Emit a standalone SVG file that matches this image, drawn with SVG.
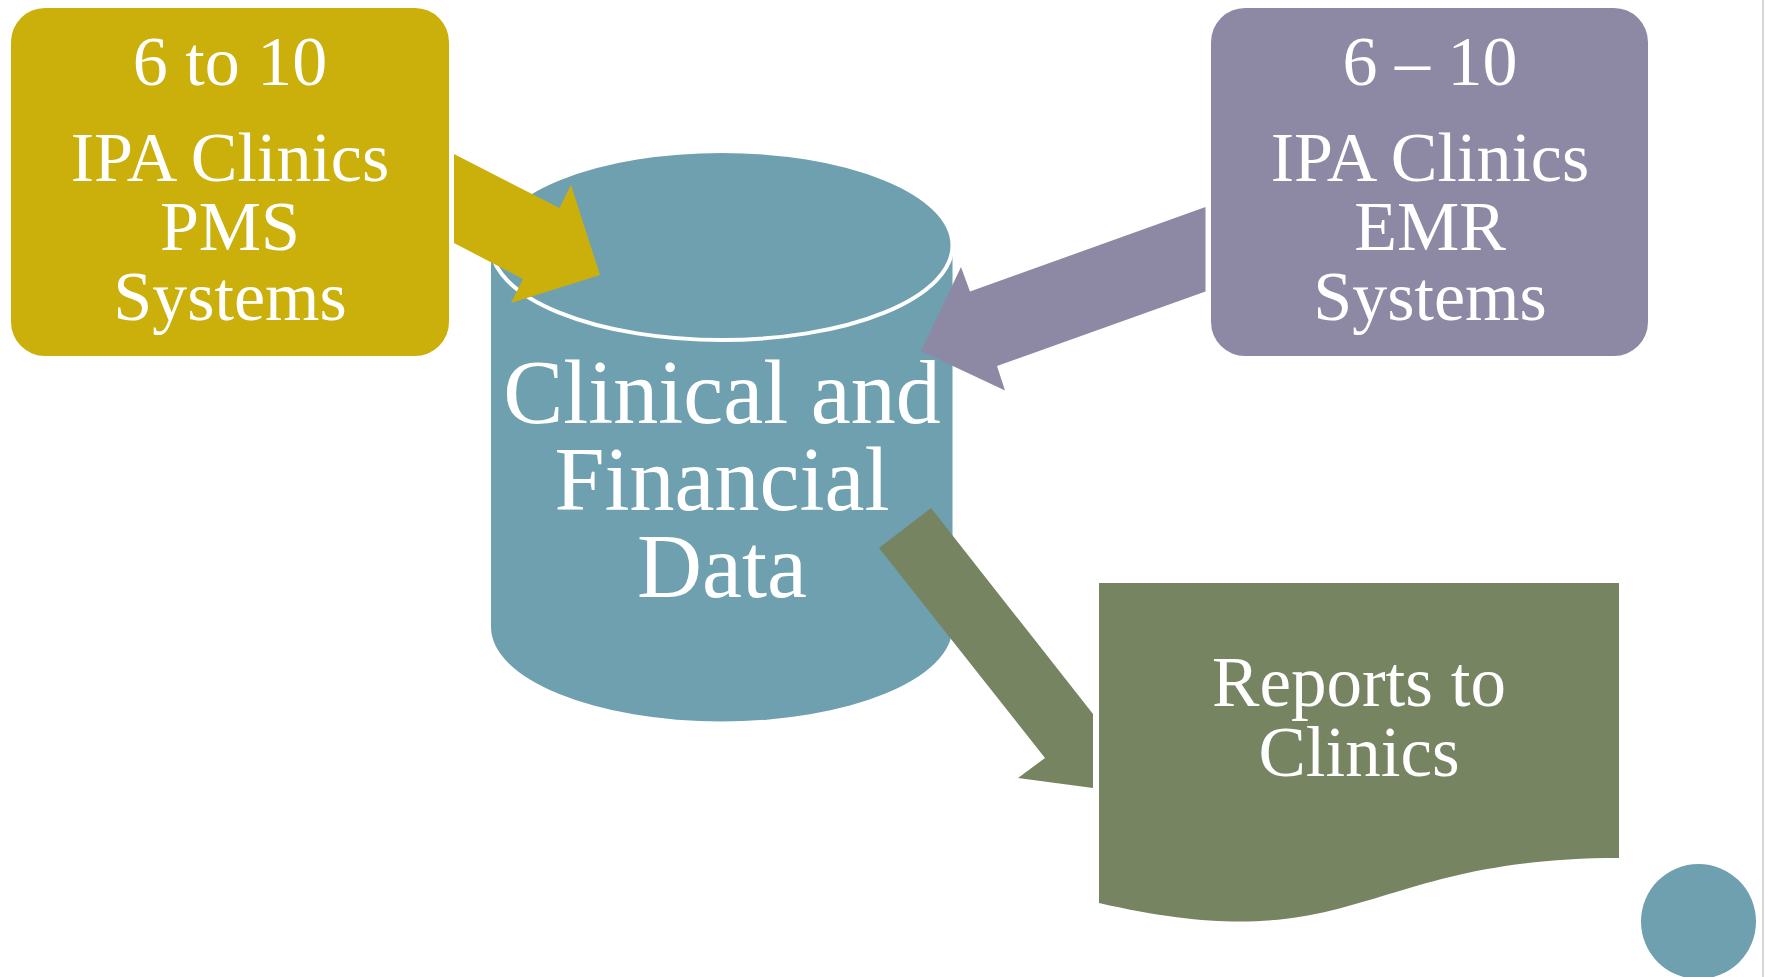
<svg xmlns="http://www.w3.org/2000/svg" width="1765" height="977" viewBox="0 0 1765 977">
<style>
text{font-family:"Liberation Serif","Times New Roman",serif;fill:#ffffff;text-anchor:middle}
.box{font-size:70px}
.big{font-size:90px}
.rep{font-size:71px}
</style>
<rect width="1765" height="977" fill="#ffffff"/>
<line x1="1763" y1="0" x2="1763" y2="977" stroke="#c8c8c8" stroke-width="1.5"/>
<g id="pms">
<rect x="11" y="8" width="438" height="348" rx="34" ry="34" fill="#CBB00C"/>
<text class="box" x="230" y="85">6 to 10</text>
<text class="box" x="230" y="181">IPA Clinics</text>
<text class="box" x="230" y="250">PMS</text>
<text class="box" x="230" y="320">Systems</text>
</g>
<g id="emr">
<rect x="1211" y="8" width="437" height="348" rx="34" ry="34" fill="#8D89A5"/>
<text class="box" x="1430" y="85">6 – 10</text>
<text class="box" x="1430" y="181">IPA Clinics</text>
<text class="box" x="1430" y="250">EMR</text>
<text class="box" x="1430" y="320">Systems</text>
</g>
<g id="data">
<path d="M491,245.5 V627 A230.75,94.5 0 0 0 952.5,627 V245.5 Z" fill="#6FA0B0"/>
<ellipse cx="721.75" cy="245.5" rx="230.75" ry="94.5" fill="#6FA0B0" stroke="#ffffff" stroke-width="4"/>
<text class="big" x="722" y="423">Clinical and</text>
<text class="big" x="722" y="510">Financial</text>
<text class="big" x="722" y="597">Data</text>
</g>
<g id="reports">
<path d="M1099,583 H1619 V858 C1359,858 1359,963 1099,903 Z" fill="#778461"/>
<text class="rep" x="1359" y="706">Reports to</text>
<text class="rep" x="1359" y="776">Clinics</text>
</g>
<g id="deco">
<circle cx="1698.5" cy="921.5" r="57.5" fill="#6FA0B0"/>
</g>
<g id="connectors">
<polygon points="454,154 559.5,208 571,185 600,275 511,303 523,279 454,243" fill="#CBB00C"/>
<polygon points="1205.5,207 970,291.5 961,267 921,351 1005,390.5 997,366 1205.5,291.5" fill="#8D89A5"/>
<polygon points="879,548 931,508 1093,714 1093,788 1018,778 1045,758" fill="#778461"/>
</g>
</svg>
